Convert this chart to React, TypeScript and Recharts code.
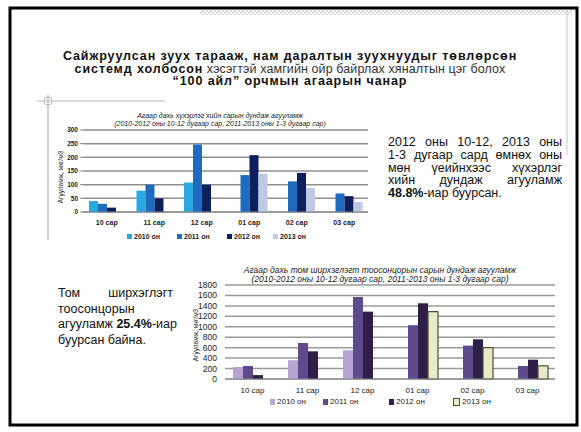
import React from "react";
import { BarChart, Bar, XAxis, YAxis, CartesianGrid } from "recharts";

const months = ["10 сар", "11 сар", "12 сар", "01 сар", "02 сар", "03 сар"];
const seriesNames = ["2010 он", "2011 он", "2012 он", "2013 он"];

const so2_2010 = [40, 78, 108, null, null, null];
const so2_2011 = [30, 100, 247, 135, 112, 68];
const so2_2012 = [16, 50, 100, 208, 143, 58];
const so2_2013 = [null, null, null, 140, 88, 36];
const so2Ticks = [0, 50, 100, 150, 200, 250, 300];

const pm_2010 = [230, 360, 550, null, null, null];
const pm_2011 = [250, 690, 1570, 1030, 640, 250];
const pm_2012 = [75, 530, 1290, 1450, 760, 370];
const pm_2013 = [null, null, null, 1290, 600, 250];
const pmTicks = [0, 200, 400, 600, 800, 1000, 1200, 1400, 1600, 1800];

const so2Colors = ["#29a9e0", "#1f6cbf", "#0e1f5b", "#bccbe3"];
const pmColors = ["#b6a5d2", "#5d4b8e", "#2d1f48", "#e9e9cc"];
const pmStrokes = ["none", "none", "none", "#4f5030"];

const keys = ["y2010", "y2011", "y2012", "y2013"];

function buildRows(values: (number | null)[][]) {
  return months.map((m, i) => {
    const row: any = { month: m };
    values.forEach((v, j) => {
      row[keys[j]] = v[i];
    });
    return row;
  });
}

const so2Rows = buildRows([so2_2010, so2_2011, so2_2012, so2_2013]);
const pmRows = buildRows([pm_2010, pm_2011, pm_2012, pm_2013]);

const FONT = "'Liberation Sans', Arial, sans-serif";
const NARROW = "'Liberation Sans Narrow', 'Liberation Sans', Arial, sans-serif";

const abs = (l: number, t: number, extra: React.CSSProperties = {}): React.CSSProperties => ({
  position: "absolute",
  left: l,
  top: t,
  ...extra,
});

function JLine({ text, last, y, x, w, size }: { text: React.ReactNode; last?: boolean; y: number; x: number; w: number; size: number }) {
  return (
    <div
      style={abs(x, y, {
        width: w,
        fontSize: size,
        fontFamily: FONT,
        color: "#111",
        textAlign: last ? "left" : "justify",
        textAlignLast: last ? "left" : "justify",
        whiteSpace: "nowrap",
        lineHeight: "14px",
      } as any)}
    >
      {text}
    </div>
  );
}

export default function App() {
  const legend1X = [127, 177, 227, 273];
  const legend2X = [270, 323, 389, 453];
  return (
    <div style={{ position: "absolute", left: 0, top: 0, width: 581, height: 432, background: "#fff", overflow: "hidden", fontFamily: FONT }}>
      <svg width={581} height={432} style={{ position: "absolute", left: 0, top: 0 }}>
        <defs>
          <pattern id="dots" width="4" height="4" patternUnits="userSpaceOnUse">
            <rect width="4" height="4" fill="#fff" />
            <rect width="2" height="2" fill="#d8d8d8" />
            <rect x="2" y="2" width="2" height="2" fill="#d8d8d8" />
          </pattern>
        </defs>
        <rect x={200} y={10} width={372} height={5} fill="url(#dots)" />
        <line x1={567} y1={10} x2={567} y2={155} stroke="#c8c8c8" strokeWidth={1} />
        <line x1={37} y1={101} x2={165} y2={101} stroke="#b8b8b8" strokeWidth={1.2} />
        <line x1={48} y1={95} x2={48} y2={240} stroke="#b8b8b8" strokeWidth={1.2} />
        <circle cx={48} cy={101} r={4} fill="none" stroke="#b8b8b8" strokeWidth={1} />
        <rect x={10} y={8} width={567} height={417} fill="none" stroke="#000" strokeWidth={3} />
      </svg>

      {/* Title */}
      <div style={abs(20, 50, { width: 540, textAlign: "center", fontSize: 12.5, lineHeight: "12.7px", color: "#111", fontFamily: FONT })}>
        <div style={{ fontWeight: "bold", letterSpacing: 0.9 }}>Сайжруулсан зуух тарааж, нам даралтын зуухнуудыг төвлөрсөн</div>
        <div>
          <span style={{ fontWeight: "bold", letterSpacing: 0.9 }}>системд холбосон</span>
          <span style={{ color: "#333", letterSpacing: 0.1 }}> хэсэгтэй хамгийн ойр байрлах хяналтын цэг болох</span>
        </div>
        <div style={{ fontWeight: "bold", letterSpacing: 0.9 }}>“100 айл” орчмын агаарын чанар</div>
      </div>

      {/* Chart 1 */}
      <div style={abs(40, 100)}>
        <BarChart width={340} height={150} data={so2Rows} margin={{ top: 30, right: 12, bottom: 18, left: 23 }} barSize={9} barGap={0}>
          <CartesianGrid vertical={false} stroke="#8e8e8e" strokeWidth={1.5} />
          <XAxis dataKey="month" height={20} tickLine={false} axisLine={{ stroke: "#888" }} tick={{ fontSize: 7, fontWeight: "bold", fill: "#222", fontFamily: FONT }} />
          <YAxis width={20} domain={[0, 300]} ticks={so2Ticks} interval={0} axisLine={false} tickLine={{ stroke: "#888" }} tickSize={3} tick={{ fontSize: 6.5, fontWeight: "bold", fill: "#222", fontFamily: FONT }} />
          {keys.map((k, i) => (
            <Bar key={k} dataKey={k} name={seriesNames[i]} fill={so2Colors[i]} isAnimationActive={false} />
          ))}
        </BarChart>
      </div>
      <div style={abs(80, 112, { width: 280, textAlign: "center", fontSize: 7, lineHeight: "8px", fontStyle: "italic", fontFamily: NARROW, color: "#222" })}>
        <div>Агаар дахь хүхэрлэг хийн сарын дундаж агууламж</div>
        <div>(2010-2012 оны 10-12 дугаар сар, 2011-2013 оны 1-3 дугаар сар)</div>
      </div>
      <div style={abs(60, 177, { transform: "translate(-50%, -50%) rotate(-90deg)", fontSize: 6.5, whiteSpace: "nowrap", color: "#222", fontFamily: FONT })}>
        Агууламж, мкг/м3
      </div>
      {seriesNames.map((n, i) => (
        <div key={n} style={abs(legend1X[i], 233, { display: "flex", alignItems: "center", fontSize: 7, fontWeight: "bold", color: "#222", whiteSpace: "nowrap" })}>
          <span style={{ display: "inline-block", width: 5, height: 5, background: so2Colors[i], marginRight: 2 }} />
          {n}
        </div>
      ))}

      {/* Right text */}
      <JLine x={388} y={135} w={174} size={12.5} text="2012 оны 10-12, 2013 оны" />
      <JLine x={388} y={148} w={174} size={12.5} text="1-3 дугаар сард өмнөх оны" />
      <JLine x={388} y={160.5} w={174} size={12.5} text="мөн үеийнхээс хүхэрлэг" />
      <JLine x={388} y={173} w={174} size={12.5} text="хийн дундаж агууламж" />
      <JLine x={388} y={186} w={174} size={12.5} last text={<><b>48.8%</b>-иар буурсан.</>} />

      {/* Left text */}
      <JLine x={58} y={286} w={115} size={12.5} text="Том ширхэглэгт" />
      <JLine x={58} y={302} w={115} size={12.5} last text="тоосонцорын" />
      <JLine x={58} y={317} w={115} size={12.5} text={<>агууламж <b>25.4%</b>-иар</>} />
      <JLine x={58} y={333} w={115} size={12.5} last text="буурсан байна." />

      {/* Chart 2 */}
      <div style={abs(185, 262)}>
        <BarChart width={380} height={150} data={pmRows} margin={{ top: 23, right: 10, bottom: 15, left: 18 }} barSize={10} barGap={0}>
          <CartesianGrid vertical={false} stroke="#999" strokeWidth={1.5} />
          <XAxis dataKey="month" height={18} tickLine={false} axisLine={{ stroke: "#888" }} tick={{ fontSize: 8, fill: "#222", fontFamily: FONT }} />
          <YAxis width={22} domain={[0, 1800]} ticks={pmTicks} interval={0} axisLine={false} tickLine={false} tick={{ fontSize: 8.5, fill: "#222", fontFamily: FONT }} />
          {keys.map((k, i) => (
            <Bar key={k} dataKey={k} name={seriesNames[i]} fill={pmColors[i]} stroke={pmStrokes[i]} strokeWidth={1.2} isAnimationActive={false} />
          ))}
        </BarChart>
      </div>
      <div style={abs(230, 266, { width: 300, textAlign: "center", fontSize: 8.5, lineHeight: "8.5px", fontStyle: "italic", fontFamily: NARROW, color: "#222" })}>
        <div>Агаар дахь том ширхэглэгт тоосонцорын сарын дундаж агууламж</div>
        <div>(2010-2012 оны 10-12 дугаар сар, 2011-2013 оны 1-3 дугаар сар)</div>
      </div>
      <div style={abs(195, 335, { transform: "translate(-50%, -50%) rotate(-90deg)", fontSize: 6.5, whiteSpace: "nowrap", color: "#222", fontFamily: FONT })}>
        Агууламж, мкг/м3
      </div>
      {seriesNames.map((n, i) => (
        <div key={n} style={abs(legend2X[i], 397, { display: "flex", alignItems: "center", fontSize: 8, color: "#222", whiteSpace: "nowrap" })}>
          <span style={{ display: "inline-block", width: 5, height: 6, background: pmColors[i], border: i === 3 ? "1px solid #4f5030" : "none", marginRight: 2 }} />
          {n}
        </div>
      ))}
    </div>
  );
}
